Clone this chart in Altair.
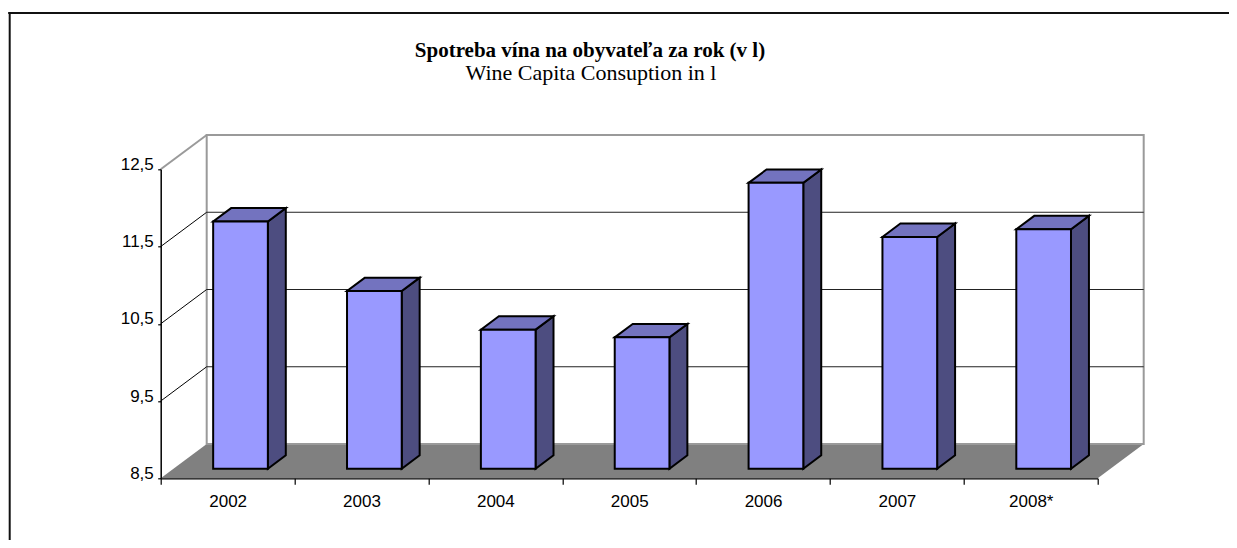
import json
import altair as alt
import pandas as pd

# ---------------- data ----------------
years = ["2002", "2003", "2004", "2005", "2006", "2007", "2008*"]
values = [11.7, 10.8, 10.3, 10.2, 12.2, 11.5, 11.6]
y_ticks = [8.5, 9.5, 10.5, 11.5, 12.5]
title_main = "Spotreba vína na obyvateľa za rok (v l)"
title_sub = "Wine Capita Consuption in l"

# ---------------- geometry ----------------
Y_MIN, Y_MAX = 8.5, 12.5
N = len(years)
W, H = 937, 309              # front plane of the plot
PAD_L, PAD_T = 152.7, 161.3
SVG_W, SVG_H = 1221, 532

DEPTH_PX_X, DEPTH_PX_Y = 46.0, 34.3          # oblique depth projection in px
DX = DEPTH_PX_X / W * N                       # in x data units
DY = DEPTH_PX_Y / H * (Y_MAX - Y_MIN)         # in y data units
BAR_W = 0.4086                                # fraction of a category
BAR_FRONT = 0.28                              # depth position of bar front
BAR_DEPTH = 0.39                              # bar depth (fraction of floor depth)

FRONT_COL = "#9999FF"
TOP_COL = "#7373BF"
SIDE_COL = "#4D4D80"
FLOOR_COL = "#808080"
WALL_EDGE = "#9A9A9A"

# ---------------- tables ----------------
front_rows, side_rows, top_rows = [], [], []
for i, (yr, v) in enumerate(zip(years, values)):
    xl = i + 0.5 - BAR_W / 2 + BAR_FRONT * DX
    xr = xl + BAR_W
    yb = Y_MIN + BAR_FRONT * DY
    yt = v + BAR_FRONT * DY
    ddx, ddy = BAR_DEPTH * DX, BAR_DEPTH * DY
    front_rows.append({"year": yr, "x0": xl, "x1": xr, "y0": yb, "y1": yt})
    side_rows.append({"year": yr, "x": xr, "yt": yt, "yb": yb})
    side_rows.append({"year": yr, "x": xr + ddx, "yt": yt + ddy, "yb": yb + ddy})
    top_rows.append({"year": yr, "y": yt, "xl": xl, "xr": xr})
    top_rows.append({"year": yr, "y": yt + ddy, "xl": xl + ddx, "xr": xr + ddx})

front_df = pd.DataFrame(front_rows)
side_df = pd.DataFrame(side_rows)
top_df = pd.DataFrame(top_rows)

floor_df = pd.DataFrame({"y": [Y_MIN, Y_MIN + DY], "x": [0, DX], "x2": [N, N + DX]})
wall_df = pd.DataFrame({"x": [DX], "x2": [N + DX], "y": [Y_MIN + DY], "y2": [Y_MAX + DY]})
inner = [t for t in y_ticks if Y_MIN < t < Y_MAX]
diag_df = pd.DataFrame({"x": [0] * len(inner), "x2": [DX] * len(inner),
                        "y": inner, "y2": [t + DY for t in inner]})
topedge_df = pd.DataFrame({"x": [0], "x2": [DX], "y": [Y_MAX], "y2": [Y_MAX + DY]})
grid_df = pd.DataFrame({"x": [DX] * len(inner), "x2": [N + DX] * len(inner),
                        "y": [t + DY for t in inner]})
one = pd.DataFrame({"k": [0]})

# ---------------- scales & axes ----------------
xs = alt.Scale(domain=[0, N], nice=False, zero=False)
ys = alt.Scale(domain=[Y_MIN, Y_MAX], nice=False, zero=False)

x_values = [k * 0.5 for k in range(2 * N + 1)]
xaxis = alt.Axis(
    values=x_values,
    labelExpr="datum.value % 1 === 0 ? '' : " + json.dumps(years) + "[floor(datum.value)]",
    tickOpacity={"condition": {"test": "datum.value % 1 === 0", "value": 1}, "value": 0},
    tickSize=6, tickColor="black", domainColor="black", domainWidth=1.2, tickWidth=1.2,
    labelFont="Liberation Sans", labelFontSize=17, labelColor="black",
    labelPadding=9.5, labelBaseline="top", labelAngle=0,
    labelOverlap=False, labelFlush=False, grid=False, title="", zindex=1,
)
yaxis = alt.Axis(
    values=y_ticks,
    labelExpr="replace(format(datum.value, '.1f'), '.', ',')",
    tickSize=3, tickColor="black", domainColor="black", domainWidth=1.5, tickWidth=1.2,
    labelFont="Liberation Sans", labelFontSize=17, labelColor="black",
    labelPadding=4.4, labelBaseline="alphabetic",
    labelOverlap=False, labelFlush=False, grid=False, title="", zindex=1,
)


def X(f):
    return alt.X(f, scale=xs, axis=xaxis)


def Y(f):
    return alt.Y(f, scale=ys, axis=yaxis)


# ---------------- layers ----------------
floor = alt.Chart(floor_df).mark_area(orient="horizontal", fill=FLOOR_COL).encode(
    y=Y("y:Q"), x=X("x:Q"), x2="x2:Q")

wall = alt.Chart(wall_df).mark_rect(fill="white", stroke=WALL_EDGE, strokeWidth=2).encode(
    x=X("x:Q"), x2="x2:Q", y=Y("y:Q"), y2="y2:Q")

diag = alt.Chart(diag_df).mark_rule(color="black", strokeWidth=1).encode(
    x=X("x:Q"), x2="x2:Q", y=Y("y:Q"), y2="y2:Q")

topedge = alt.Chart(topedge_df).mark_rule(color=WALL_EDGE, strokeWidth=2).encode(
    x=X("x:Q"), x2="x2:Q", y=Y("y:Q"), y2="y2:Q")

grid = alt.Chart(grid_df).mark_rule(color="#222222", strokeWidth=1).encode(
    x=X("x:Q"), x2="x2:Q", y=Y("y:Q"))

side = alt.Chart(side_df).mark_area(
    orient="vertical", fill=SIDE_COL, stroke="black", strokeWidth=2).encode(
    x=X("x:Q"), y=Y("yt:Q"), y2="yb:Q", detail="year:N")

top = alt.Chart(top_df).mark_area(
    orient="horizontal", fill=TOP_COL, stroke="black", strokeWidth=2).encode(
    y=Y("y:Q"), x=X("xl:Q"), x2="xr:Q", detail="year:N")

front = alt.Chart(front_df).mark_rect(fill=FRONT_COL, stroke="black", strokeWidth=2).encode(
    x=X("x0:Q"), x2="x1:Q", y=Y("y0:Q"), y2="y1:Q")

t1 = alt.Chart(pd.DataFrame({"t": [title_main]})).mark_text(
    font="Liberation Serif", fontSize=21, fontWeight="bold", color="black",
    align="center", baseline="alphabetic").encode(
    text="t:N", x=alt.value(590 - 160.7), y=alt.value(57.3 - 169.3))

t2 = alt.Chart(pd.DataFrame({"t": [title_sub]})).mark_text(
    font="Liberation Serif", fontSize=22, color="black",
    align="center", baseline="alphabetic").encode(
    text="t:N", x=alt.value(591 - 160.7), y=alt.value(80.3 - 169.3))

border_top = alt.Chart(one).mark_rule(color="#111111", strokeWidth=2).encode(
    x=alt.value(-152.5), x2=alt.value(1090), y=alt.value(13 - 169.3))
border_left = alt.Chart(one).mark_rule(color="#111111", strokeWidth=2).encode(
    x=alt.value(9.7 - 160.7), y=alt.value(12 - 169.3), y2=alt.value(420))

chart = alt.layer(
    floor, wall, diag, topedge, grid, side, top, front, t1, t2, border_top, border_left
).properties(
    width=W, height=H,
    autosize=alt.AutoSizeParams(type="none"),
    padding={"left": PAD_L, "top": PAD_T,
             "right": SVG_W - PAD_L - W, "bottom": SVG_H - PAD_T - H},
    background="white",
).configure_view(strokeWidth=0)

chart.save("out.html", embed_options={"renderer": "svg", "actions": False})
